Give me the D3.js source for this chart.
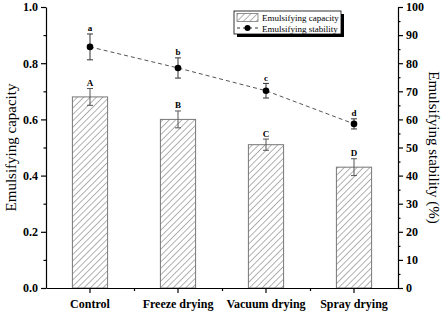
<!DOCTYPE html>
<html>
<head>
<meta charset="utf-8">
<script src="https://cdn.jsdelivr.net/npm/d3@7"></script>
<style>
  body { margin: 0; background: #fff; }
  svg text { font-family: "Liberation Serif", "DejaVu Serif", "Times New Roman", serif !important; }
</style>
</head>
<body>
<div id="chart"></div>
<script>
const WIDTH = 447;
const HEIGHT = 312;

const categories = ["Control", "Freeze drying", "Vacuum drying", "Spray drying"];
const capacity = [0.68, 0.60, 0.51, 0.43];
const capacityErr = [0.03, 0.03, 0.02, 0.03];
const capacityLetters = ["A", "B", "C", "D"];
const stability = [85.8, 78.3, 70.2, 58.4];
const stabilityErr = [4.6, 3.6, 2.6, 1.8];
const stabilityLetters = ["a", "b", "c", "d"];
const leftTicks = [0.0, 0.2, 0.4, 0.6, 0.8, 1.0];
const rightTicks = [0, 10, 20, 30, 40, 50, 60, 70, 80, 90, 100];

const SERIF = "'Liberation Serif', 'DejaVu Serif', serif";
const MARGIN = { TOP: 7, BOTTOM: 24, LEFT: 46, RIGHT: 49 };
const widthSVG = WIDTH - MARGIN.LEFT - MARGIN.RIGHT;
const heightSVG = HEIGHT - MARGIN.TOP - MARGIN.BOTTOM;

const SVG = d3.select('#chart')
    .append('svg')
    .attr('width', WIDTH)
    .attr('height', HEIGHT)
    .attr('font-family', SERIF);

const defs = SVG.append("defs");
const pattern = defs.append("pattern")
    .attr("id", "hatch")
    .attr("patternUnits", "userSpaceOnUse")
    .attr("width", 4.5)
    .attr("height", 4.5)
    .attr("patternTransform", "rotate(45)");
pattern.append("line")
    .attr("x1", 0).attr("y1", 0).attr("x2", 0).attr("y2", 4.5)
    .attr("stroke", "#555")
    .attr("stroke-width", 0.9);

const container = SVG.append("g")
    .attr("transform", `translate(${MARGIN.LEFT}, ${MARGIN.TOP})`);

const x = d3.scaleBand().domain(categories).range([0, widthSVG]);
const yLeft = d3.scaleLinear().domain([0, 1]).range([heightSVG, 0]);
const yRight = d3.scaleLinear().domain([0, 100]).range([heightSVG, 0]);

const barW = x.bandwidth() * 0.4;
const cx = c => x(c) + x.bandwidth() / 2;

// bars
container.selectAll(".bar")
    .data(categories)
    .enter()
    .append("rect")
    .attr("class", "bar")
    .attr("x", c => cx(c) - barW / 2)
    .attr("y", (c, i) => yLeft(capacity[i]))
    .attr("width", barW)
    .attr("height", (c, i) => heightSVG - yLeft(capacity[i]))
    .attr("fill", "url(#hatch)")
    .attr("stroke", "#777")
    .attr("stroke-width", 1);

// error bars helper
const errorBars = (vals, errs, scale, color) => {
    categories.forEach((c, i) => {
        const g = container.append("g").attr("stroke", color).attr("stroke-width", 1);
        const xc = cx(c);
        g.append("line").attr("x1", xc).attr("x2", xc)
            .attr("y1", scale(vals[i] - errs[i])).attr("y2", scale(vals[i] + errs[i]));
        [vals[i] - errs[i], vals[i] + errs[i]].forEach(v => {
            g.append("line").attr("x1", xc - 3).attr("x2", xc + 3)
                .attr("y1", scale(v)).attr("y2", scale(v));
        });
    });
};

errorBars(capacity, capacityErr, yLeft, "#555");

container.selectAll(".capLetter")
    .data(categories)
    .enter()
    .append("text")
    .attr("x", c => cx(c))
    .attr("y", (c, i) => yLeft(capacity[i] + capacityErr[i]) - 2.5)
    .attr("text-anchor", "middle")
    .attr("font-size", 9)
    .attr("font-weight", "bold")
    .text((c, i) => capacityLetters[i]);

// stability line
const line = d3.line()
    .x((d, i) => cx(categories[i]))
    .y(d => yRight(d));

container.append("path")
    .datum(stability)
    .attr("d", line)
    .attr("fill", "none")
    .attr("stroke", "#555")
    .attr("stroke-width", 1)
    .attr("stroke-dasharray", "4,3");

errorBars(stability, stabilityErr, yRight, "#333");

container.selectAll(".dot")
    .data(stability)
    .enter()
    .append("circle")
    .attr("cx", (d, i) => cx(categories[i]))
    .attr("cy", d => yRight(d))
    .attr("r", 3.3)
    .attr("fill", "#000");

container.selectAll(".stabLetter")
    .data(categories)
    .enter()
    .append("text")
    .attr("x", c => cx(c))
    .attr("y", (c, i) => yRight(stability[i] + stabilityErr[i]) - 2.5)
    .attr("text-anchor", "middle")
    .attr("font-size", 9)
    .attr("font-weight", "bold")
    .text((c, i) => stabilityLetters[i]);

// axes
const styleAxis = (g, size) => {
    g.attr("font-family", SERIF);
    g.select(".domain").attr("stroke", "#000").attr("stroke-width", 1.2);
    g.selectAll(".tick line").attr("stroke", "#000").attr("stroke-width", 1.2);
    g.selectAll(".tick text")
        .attr("font-weight", "bold")
        .attr("font-size", size)
        .attr("fill", "#000");
};

const leftMinor = container.append("g")
    .call(d3.axisLeft(yLeft).tickValues(d3.range(0.1, 1, 0.2)).tickSize(2.5).tickFormat(""));
leftMinor.select(".domain").remove();
leftMinor.selectAll("line").attr("stroke", "#000").attr("stroke-width", 1.2);

const leftAxis = container.append("g")
    .call(d3.axisLeft(yLeft).tickValues(leftTicks).tickSize(5).tickSizeOuter(0).tickPadding(3).tickFormat(d3.format(".1f")));
styleAxis(leftAxis, 12);

const rightMinor = container.append("g")
    .attr("transform", `translate(${widthSVG},0)`)
    .call(d3.axisRight(yRight).tickValues(d3.range(5, 100, 10)).tickSize(2.5).tickFormat(""));
rightMinor.select(".domain").remove();
rightMinor.selectAll("line").attr("stroke", "#000").attr("stroke-width", 1.2);

const rightAxis = container.append("g")
    .attr("transform", `translate(${widthSVG},0)`)
    .call(d3.axisRight(yRight).tickValues(rightTicks).tickSize(5).tickSizeOuter(0).tickPadding(3));
styleAxis(rightAxis, 12);

const bottomMinor = container.append("g")
    .attr("transform", `translate(0,${heightSVG})`)
    .call(d3.axisBottom(d3.scaleLinear().domain([0, 4]).range([0, widthSVG]))
        .tickValues([1, 2, 3]).tickSize(3).tickFormat(""));
bottomMinor.select(".domain").remove();
bottomMinor.selectAll("line").attr("stroke", "#000").attr("stroke-width", 1.2);

const bottomAxis = container.append("g")
    .attr("transform", `translate(0,${heightSVG})`)
    .call(d3.axisBottom(x).tickSize(5).tickSizeOuter(0).tickPadding(6));
styleAxis(bottomAxis, 12);

// axis titles
SVG.append("text")
    .attr("transform", `translate(16, ${MARGIN.TOP + heightSVG / 2}) rotate(-90)`)
    .attr("text-anchor", "middle")
    .attr("font-size", 15)
    .text("Emulsifying capacity");

SVG.append("text")
    .attr("transform", `translate(429, ${MARGIN.TOP + heightSVG / 2}) rotate(90)`)
    .attr("text-anchor", "middle")
    .attr("font-size", 15)
    .text("Emulsifying stability (%)");

// legend
const legend = SVG.append("g").attr("transform", "translate(234, 11)");
legend.append("rect")
    .attr("x", 3).attr("y", 3).attr("width", 107).attr("height", 23)
    .attr("fill", "#000");
legend.append("rect")
    .attr("x", 0).attr("y", 0).attr("width", 107).attr("height", 23)
    .attr("fill", "#fff").attr("stroke", "#000").attr("stroke-width", 0.8);
legend.append("rect")
    .attr("x", 3).attr("y", 2.5).attr("width", 21).attr("height", 8)
    .attr("fill", "url(#hatch)").attr("stroke", "#777").attr("stroke-width", 0.8);
legend.append("line")
    .attr("x1", 3).attr("x2", 24).attr("y1", 17).attr("y2", 17)
    .attr("stroke", "#333").attr("stroke-dasharray", "3,3");
legend.append("circle")
    .attr("cx", 13.5).attr("cy", 17).attr("r", 3).attr("fill", "#000");
legend.append("text")
    .attr("x", 28).attr("y", 9.5)
    .attr("font-size", 9)
    .text("Emulsifying capacity");
legend.append("text")
    .attr("x", 28).attr("y", 20.5)
    .attr("font-size", 9)
    .text("Emulsifying stability");
</script>
</body>
</html>
